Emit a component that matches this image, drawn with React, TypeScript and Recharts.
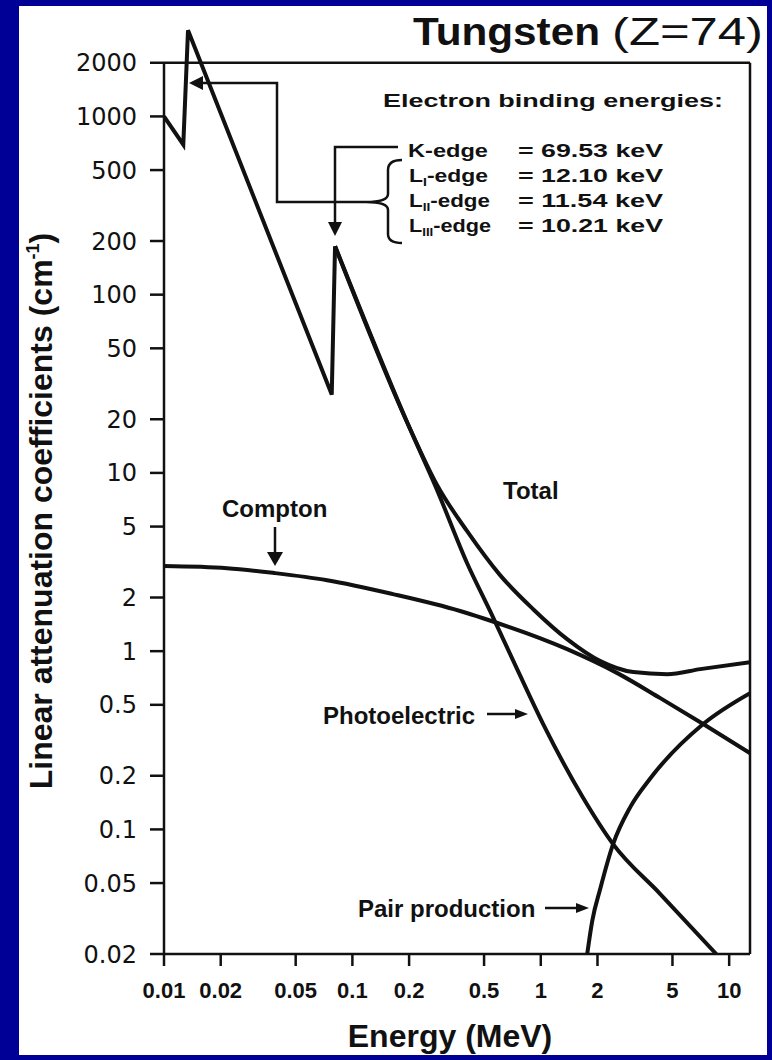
import React from "react";
import { LineChart, Line, XAxis, YAxis, ReferenceLine } from "recharts";

// energy in MeV, linear attenuation in cm^-1
const xTicks = [0.01, 0.02, 0.05, 0.1, 0.2, 0.5, 1, 2, 5, 10];
const yTicks = [0.02, 0.05, 0.1, 0.2, 0.5, 1, 2, 5, 10, 20, 50, 100, 200, 500, 1000, 2000];

// total, L and K edge part (straight segments)
const edgeEnergy = [0.01, 0.01266, 0.01341, 0.0777, 0.0809];
const edgeMu = [1000, 695, 3040, 27.5, 187];

// total above the K-edge
const totalEnergy = [0.0809, 0.1952, 0.2818, 0.4065, 0.608, 0.911, 1.38, 2.07, 3.1, 4.69, 7.02, 12.9];
const totalMu = [187, 19.24, 8.53, 4.71, 2.67, 1.72, 1.168, 0.879, 0.763, 0.743, 0.793, 0.868];

const photoEnergy = [0.0809, 0.1952, 0.2818, 0.4065, 0.5386, 0.749, 1.03, 1.68, 2.42, 4.31, 8.54];
const photoMu = [187, 19.24, 8.0, 3.115, 1.676, 0.793, 0.39, 0.15, 0.0827, 0.0434, 0.02];

const comptonEnergy = [0.01, 0.0216, 0.0389, 0.0734, 0.164, 0.373, 0.494, 1.38, 2.55, 4.31, 7.28, 12.9];
const comptonMu = [3.0, 2.92, 2.74, 2.5, 2.09, 1.68, 1.53, 1.026, 0.753, 0.545, 0.39, 0.268];

const pairEnergy = [1.764, 1.875, 2.067, 2.42, 2.985, 3.81, 7.28, 12.9];
const pairMu = [0.02, 0.0306, 0.0463, 0.0827, 0.1334, 0.193, 0.39, 0.581];

const X_MIN = 0.01;
const X_MAX = 12.9;
const Y_MIN = 0.02;
const Y_MAX = 3300;
const FRAME_TOP = 2000;

const ink = "#111";
const FONT = "'Liberation Sans', Arial, Helvetica, sans-serif";

const toPoints = (energy: number[], mu: number[]) =>
  energy.map((e, i) => ({ energy: e, mu: mu[i] }));

function Head({ x, y, dir, size = 14, half = 7 }: { x: number; y: number; dir: "left" | "right" | "down"; size?: number; half?: number }) {
  let pts = "";
  if (dir === "left") pts = `${x},${y} ${x + size},${y - half} ${x + size},${y + half}`;
  if (dir === "right") pts = `${x},${y} ${x - size},${y - half} ${x - size},${y + half}`;
  if (dir === "down") pts = `${x},${y} ${x - half},${y - size} ${x + half},${y - size}`;
  return <polygon points={pts} fill={ink} />;
}

function Annotations() {
  const label = { fontFamily: FONT, fontWeight: "bold" as const, fill: ink };
  const small = { ...label, fontSize: 18, lengthAdjust: "spacingAndGlyphs" as const };
  const edges = [
    { sub: "I", value: "= 12.10 keV", y: 182, w: 79 },
    { sub: "II", value: "= 11.54 keV", y: 207, w: 81 },
    { sub: "III", value: "= 10.21 keV", y: 232, w: 82 },
  ];
  return (
    <svg
      width={772}
      height={1060}
      style={{ position: "absolute", left: 0, top: 0, pointerEvents: "none" }}
    >
      {/* title */}
      <text x={413} y={45} {...label} fontSize={38} textLength={187} lengthAdjust="spacingAndGlyphs">
        Tungsten
      </text>
      <text x={612} y={45} fontFamily={FONT} fill={ink} fontSize={38} textLength={151} lengthAdjust="spacingAndGlyphs">
        (Z=74)
      </text>

      {/* binding energies box */}
      <text x={383} y={107} {...small} textLength={340}>
        Electron binding energies:
      </text>
      <text x={408} y={157} {...small} textLength={80}>
        K-edge
      </text>
      <text x={518} y={157} {...small} textLength={145}>
        = 69.53 keV
      </text>
      {edges.map((d) => (
        <g key={d.sub}>
          <text x={409} y={d.y} {...small} textLength={d.w}>
            L
            <tspan fontSize={11} dy={4}>
              {d.sub}
            </tspan>
            <tspan dy={-4}>-edge</tspan>
          </text>
          <text x={518} y={d.y} {...small} textLength={145}>
            {d.value}
          </text>
        </g>
      ))}
      <path
        d="M402,160 Q388,160 388,170 L388,194 Q388,202 366,202 Q388,202 388,210 L388,234 Q388,243 402,243"
        fill="none"
        stroke={ink}
        strokeWidth={2.5}
      />

      {/* arrows to the edges */}
      <polyline points="366,202 277,202 277,83 202,83" fill="none" stroke={ink} strokeWidth={2.5} />
      <Head x={189} y={83} dir="left" />
      <polyline points="398,147 335,147 335,223" fill="none" stroke={ink} strokeWidth={2.5} />
      <Head x={335} y={236} dir="down" />

      {/* curve labels */}
      <text x={222} y={517} {...label} fontSize={24}>
        Compton
      </text>
      <line x1={275} y1={527} x2={275} y2={553} stroke={ink} strokeWidth={2.5} />
      <Head x={275} y={566} dir="down" size={14} half={8} />

      <text x={503} y={499} {...label} fontSize={24}>
        Total
      </text>

      <text x={323} y={724} {...label} fontSize={24}>
        Photoelectric
      </text>
      <line x1={487} y1={714} x2={515} y2={714} stroke={ink} strokeWidth={2.5} />
      <Head x={528} y={714} dir="right" size={13} half={5} />

      <text x={358} y={917} {...label} fontSize={24}>
        Pair production
      </text>
      <line x1={545} y1={908} x2={576} y2={908} stroke={ink} strokeWidth={2.5} />
      <Head x={589} y={908} dir="right" size={13} half={5} />

      {/* axis titles */}
      <text transform="translate(52, 511) rotate(-90)" textAnchor="middle" {...label} fontSize={32}>
        Linear attenuation coefficients (cm
        <tspan fontSize={18} dy={-13}>
          -1
        </tspan>
        <tspan dy={13}>)</tspan>
      </text>
      <text x={450} y={1047} textAnchor="middle" {...label} fontSize={32}>
        Energy (MeV)
      </text>
    </svg>
  );
}

export default function App() {
  const line = {
    stroke: ink,
    strokeWidth: 4,
    dot: false,
    isAnimationActive: false,
    dataKey: "mu",
  };
  return (
    <div
      style={{
        position: "absolute",
        left: 0,
        top: 0,
        width: 772,
        height: 1060,
        background: "#000096",
        overflow: "hidden",
      }}
    >
      <div
        style={{ position: "absolute", left: 19, top: 6, width: 748, height: 1049, background: "#fff" }}
      />
      <div style={{ position: "absolute", left: 0, top: 0 }}>
        <LineChart width={772} height={1060} margin={{ top: 24, right: 22, bottom: 46, left: 0 }}>
          <XAxis
            dataKey="energy"
            type="number"
            scale="log"
            domain={[X_MIN, X_MAX]}
            allowDataOverflow
            ticks={xTicks}
            interval={0}
            height={60}
            tickSize={12}
            tickMargin={16}
            tickFormatter={(v: number) => String(v)}
            axisLine={{ stroke: ink, strokeWidth: 2.5 }}
            tickLine={{ stroke: ink, strokeWidth: 2.5 }}
            tick={{
              fontFamily: "'Liberation Sans Narrow', 'Liberation Sans', Arial, sans-serif",
              fontWeight: "bold",
              fontSize: 22,
              fill: ink,
            }}
          />
          <YAxis
            type="number"
            scale="log"
            domain={[Y_MIN, Y_MAX]}
            allowDataOverflow
            ticks={yTicks}
            interval={0}
            width={164}
            tickSize={14}
            tickMargin={13}
            tickFormatter={(v: number) => String(v)}
            axisLine={false}
            tickLine={{ stroke: ink, strokeWidth: 2.5 }}
            tick={{ fontFamily: "'DejaVu Sans', sans-serif", fontSize: 24, fill: ink }}
          />
          {/* plot frame: closes at 2000 while the L-edge peak pokes above it */}
          <ReferenceLine
            segment={[{ x: X_MIN, y: Y_MIN }, { x: X_MIN, y: FRAME_TOP }]}
            stroke={ink}
            strokeWidth={2.5}
            ifOverflow="visible"
          />
          <ReferenceLine
            segment={[{ x: X_MIN, y: FRAME_TOP }, { x: X_MAX, y: FRAME_TOP }]}
            stroke={ink}
            strokeWidth={2.5}
            ifOverflow="visible"
          />
          <ReferenceLine
            segment={[{ x: X_MAX, y: Y_MIN }, { x: X_MAX, y: FRAME_TOP }]}
            stroke={ink}
            strokeWidth={2.5}
            ifOverflow="visible"
          />
          <Line {...line} type="linear" data={toPoints(edgeEnergy, edgeMu)} />
          <Line {...line} type="monotone" data={toPoints(totalEnergy, totalMu)} />
          <Line {...line} type="monotone" data={toPoints(photoEnergy, photoMu)} />
          <Line {...line} type="monotone" data={toPoints(comptonEnergy, comptonMu)} />
          <Line {...line} type="monotone" data={toPoints(pairEnergy, pairMu)} />
        </LineChart>
      </div>
      <Annotations />
    </div>
  );
}
